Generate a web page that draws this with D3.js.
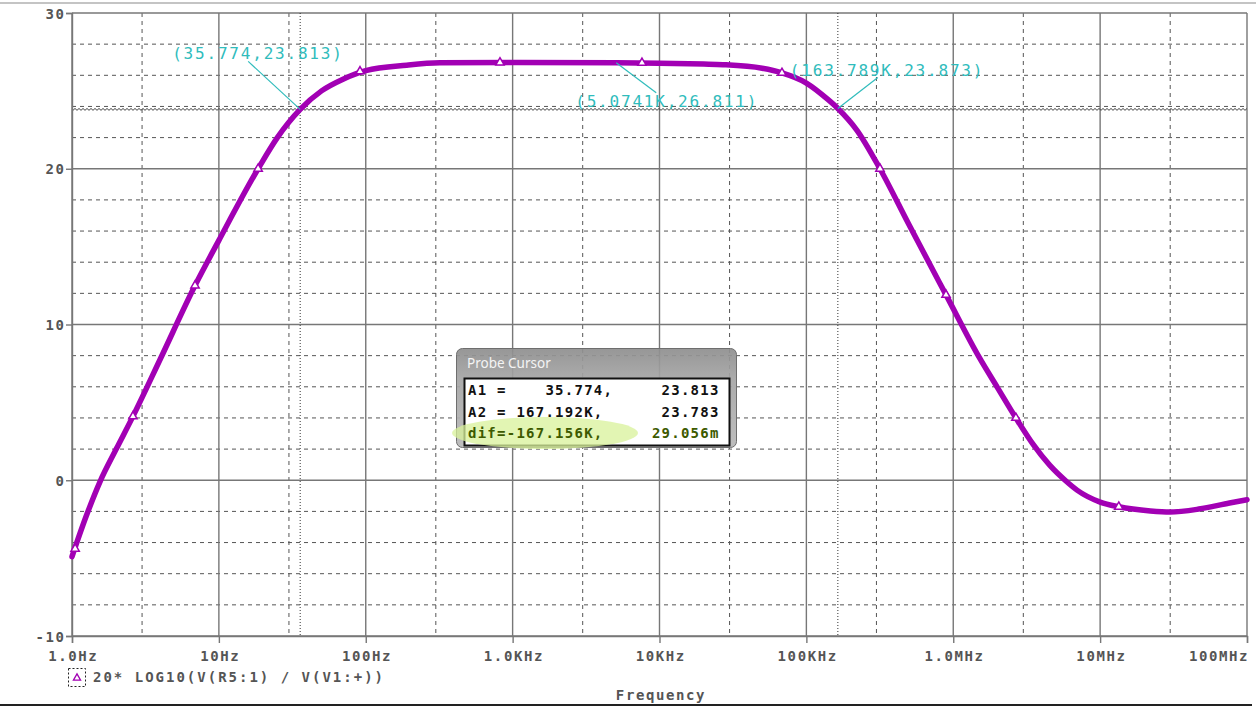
<!DOCTYPE html>
<html>
<head>
<meta charset="utf-8">
<script src="https://cdn.jsdelivr.net/npm/d3@7"></script>
<style>
  body { margin: 0; background: #fff; }
  svg { display: block; }
  .mono { font-family: "DejaVu Sans Mono", monospace; }
</style>
</head>
<body>
<svg id="chart" width="1256" height="707"></svg>
<script>
// frequency response (Hz, dB)
var freqs = [1, 1.25, 1.55, 2, 2.6, 4, 6.88, 10, 18.5, 25, 35.774, 50, 70, 100, 190, 320, 1000, 5074.1, 10000, 20000, 27000, 50000, 68200, 100000, 140000, 163789, 221000, 317000, 500000, 893000, 1.5e6, 2e6, 2.67e6, 3.5e6, 4.55e6, 5.85e6, 7e6, 1e7, 1.34e7, 2.2e7, 3e7, 4.7e7, 7.6e7, 1e8];
var gains = [-4.9, -2.3, -0.1, 2.0, 4.1, 7.8, 12.5, 15.4, 20, 22, 23.813, 25.0, 25.75, 26.3, 26.65, 26.8, 26.82, 26.811, 26.78, 26.72, 26.68, 26.45, 26.15, 25.5, 24.45, 23.873, 22.47, 20, 16.4, 11.9, 7.9, 5.95, 4, 2.3, 0.95, -0.05, -0.65, -1.4, -1.7, -1.97, -2.04, -1.85, -1.46, -1.25];

// symbol markers along the trace
var markerFreqs = [1.05, 2.6, 6.88, 18.5, 91.4, 820, 7600, 68200, 317000, 893000, 2.67e6, 1.34e7];
var markerGains = [-4.4, 4.1, 12.5, 20, 26.25, 26.82, 26.8, 26.15, 20, 11.9, 4, -1.7];

var xTicks = [1, 10, 100, 1e3, 1e4, 1e5, 1e6, 1e7, 1e8];
var xTickLabels = ["1.0Hz", "10Hz", "100Hz", "1.0KHz", "10KHz", "100KHz", "1.0MHz", "10MHz", "100MHz"];
var xMinor = [3, 30, 300, 3e3, 3e4, 3e5, 3e6, 3e7];
var yTicks = [-10, 0, 10, 20, 30];
var yMinor = [-8, -6, -4, -2, 2, 4, 6, 8, 12, 14, 16, 18, 22, 24, 26, 28];

// cursor points
var cursors = [
  {f: 35.774, g: 23.813, label: "(35.774,23.813)"},
  {f: 5074.1, g: 26.811, label: "(5.0741K,26.811)"},
  {f: 163789, g: 23.873, label: "(163.789K,23.873)"}
];
var probeRows = [
  "A1 =    35.774,     23.813",
  "A2 = 167.192K,      23.783",
  "dif=-167.156K,     29.056m"
];

var pLeft = 72, pRight = 1247, pTop = 13, pBottom = 636;
var svg = d3.select("#chart");

var x = d3.scaleLog().domain([1, 1e8]).range([pLeft, pRight]);
var y = d3.scaleLinear().domain([-10, 30]).range([pBottom, pTop]);

// frame lines of the window
svg.append("line").attr("x1", 0).attr("x2", 1256).attr("y1", 3).attr("y2", 3)
  .attr("stroke", "#c4c4c4").attr("stroke-width", 2);
svg.append("line").attr("x1", 0).attr("x2", 1252).attr("y1", 705).attr("y2", 705)
  .attr("stroke", "#222").attr("stroke-width", 2);

// grid
var grid = svg.append("g");
grid.selectAll(".vmin").data(xMinor).enter().append("line")
  .attr("x1", d => x(d)).attr("x2", d => x(d)).attr("y1", pTop).attr("y2", pBottom)
  .attr("stroke", "#555").attr("stroke-dasharray", "4,4");
grid.selectAll(".hmin").data(yMinor).enter().append("line")
  .attr("x1", pLeft).attr("x2", pRight).attr("y1", d => y(d)).attr("y2", d => y(d))
  .attr("stroke", "#555").attr("stroke-dasharray", "4,4");
grid.selectAll(".vmaj").data(xTicks).enter().append("line")
  .attr("x1", d => x(d)).attr("x2", d => x(d)).attr("y1", pTop).attr("y2", pBottom)
  .attr("stroke", "#777").attr("stroke-width", 1.4);
grid.selectAll(".hmaj").data(yTicks).enter().append("line")
  .attr("x1", pLeft).attr("x2", pRight).attr("y1", d => y(d)).attr("y2", d => y(d))
  .attr("stroke", "#777").attr("stroke-width", 1.4);

// cursor lines
cursors.filter((c, i) => i != 1).forEach(function(c, i){
  svg.append("line").attr("x1", x(c.f)).attr("x2", x(c.f)).attr("y1", pTop).attr("y2", pBottom)
    .attr("stroke", "#333").attr("stroke-dasharray", "1,2");
  svg.append("line").attr("x1", pLeft).attr("x2", pRight).attr("y1", y(c.g) + 0.5).attr("y2", y(c.g) + 0.5)
    .attr("stroke", "#444").attr("stroke-dasharray", "2,2").attr("stroke-dashoffset", i * 2);
});

// axes
var xAxis = d3.axisBottom(x).tickValues(xTicks).tickSize(7)
  .tickFormat((d, i) => xTickLabels[i]);
var yAxis = d3.axisLeft(y).tickValues(yTicks).tickSize(6)
  .tickFormat(d => d);

var gx = svg.append("g").attr("transform", "translate(0," + pBottom + ")").call(xAxis);
var gy = svg.append("g").attr("transform", "translate(" + pLeft + ",0)").call(yAxis);
[gx, gy].forEach(function(g){
  g.select(".domain").attr("stroke", "#777").attr("stroke-width", 1.4);
  g.selectAll(".tick line").attr("stroke", "#777").attr("stroke-width", 1.4);
  g.selectAll(".tick text").attr("class", "mono").attr("fill", "#555")
    .attr("font-size", "14px").attr("font-weight", "bold").style("letter-spacing", "1.6px");
});
gx.selectAll(".tick text").attr("y", 15).attr("dx", "0.8px");
gx.selectAll(".tick text").filter((d, i) => i == xTicks.length - 1)
  .attr("text-anchor", "end").attr("dx", "1.6px");
gy.selectAll(".tick text").attr("x", -8).attr("dx", "1.6px").attr("dy", "0.36em");

// trace
var pts = freqs.map((f, i) => ({f: f, g: gains[i]}));
var line = d3.line().x(d => x(d.f)).y(d => y(d.g)).curve(d3.curveMonotoneX);
svg.append("path").attr("d", line(pts)).attr("fill", "none")
  .attr("stroke", "#a200b4").attr("stroke-width", 5.5).attr("stroke-linecap", "round");

var tri = d3.symbol().type(d3.symbolTriangle).size(30);
svg.selectAll(".mk").data(markerFreqs).enter().append("path")
  .attr("d", tri)
  .attr("transform", (d, i) => "translate(" + x(d) + "," + y(markerGains[i]) + ")")
  .attr("fill", "#fff").attr("stroke", "#a200b4").attr("stroke-width", 1.5);

// cursor annotations
var ann = svg.append("g");
cursors.forEach(function(c, i){
  var px = x(c.f), py = y(c.g);
  var lx, ly, tx, ty;
  if (i == 0) { lx = px - 52; ly = py - 48; tx = px - 128; ty = py - 50; }
  if (i == 1) { lx = px + 40; ly = py + 30; tx = px - 41; ty = py + 44; }
  if (i == 2) { lx = px + 40; ly = py - 31; tx = px - 48; ty = py - 32; }
  ann.append("line").attr("x1", px).attr("y1", py).attr("x2", lx).attr("y2", ly)
    .attr("stroke", "#30bcbc").attr("stroke-width", 1.2);
  ann.append("text").attr("class", "mono").attr("x", tx).attr("y", ty)
    .attr("fill", "#30bcbc").attr("font-size", "16px").style("letter-spacing", "1.8px")
    .text(c.label);
});

// legend
svg.append("rect").attr("x", 68.5).attr("y", 668.5).attr("width", 17).attr("height", 18)
  .attr("fill", "none").attr("stroke", "#222").attr("stroke-dasharray", "2,2");
svg.append("path").attr("d", d3.symbol().type(d3.symbolTriangle).size(22))
  .attr("transform", "translate(77,678)")
  .attr("fill", "#fff").attr("stroke", "#a200b4").attr("stroke-width", 1.3);
svg.append("text").attr("class", "mono").attr("x", 93).attr("y", 682)
  .attr("fill", "#555").attr("font-size", "14px").attr("font-weight", "bold")
  .style("letter-spacing", "2px").text("20* LOG10(V(R5:1) / V(V1:+))");

svg.append("text").attr("class", "mono").attr("x", 661).attr("y", 700)
  .attr("text-anchor", "middle").attr("fill", "#555").attr("font-size", "14px")
  .attr("font-weight", "bold").style("letter-spacing", "1.6px").text("Frequency");

// probe cursor window
var defs = svg.append("defs");
var grad = defs.append("linearGradient").attr("id", "win").attr("x1", 0).attr("y1", 0).attr("x2", 0).attr("y2", 1);
grad.append("stop").attr("offset", "0%").attr("stop-color", "#8e8e8e");
grad.append("stop").attr("offset", "30%").attr("stop-color", "#a4a4a4");
grad.append("stop").attr("offset", "100%").attr("stop-color", "#b8b8b8");

var win = svg.append("g");
win.append("rect").attr("x", 456.5).attr("y", 348.5).attr("width", 280).attr("height", 99).attr("rx", 6)
  .attr("fill", "url(#win)").attr("fill-opacity", 0.92).attr("stroke", "#6e6e6e");
win.append("text").attr("x", 467).attr("y", 368)
  .attr("font-family", "Noto Sans, sans-serif").attr("font-size", "13.5px")
  .attr("fill", "#f4f4f4").text("Probe Cursor");
win.append("rect").attr("x", 464.5).attr("y", 378.5).attr("width", 265).attr("height", 67)
  .attr("fill", "#fff").attr("stroke", "#111").attr("stroke-width", 2);
win.append("ellipse").attr("cx", 545).attr("cy", 433).attr("rx", 93).attr("ry", 16)
  .attr("fill", "#d8f29a").attr("fill-opacity", 0.75);
win.selectAll(".row").data(probeRows).enter().append("text")
  .attr("class", "mono").attr("x", 468).attr("y", (d, i) => 395 + i * 21.5)
  .attr("fill", (d, i) => i == 2 ? "#3d5a00" : "#111")
  .attr("font-size", "14px").attr("font-weight", "bold")
  .style("letter-spacing", "1.25px").style("white-space", "pre")
  .text(d => d);
</script>
</body>
</html>
